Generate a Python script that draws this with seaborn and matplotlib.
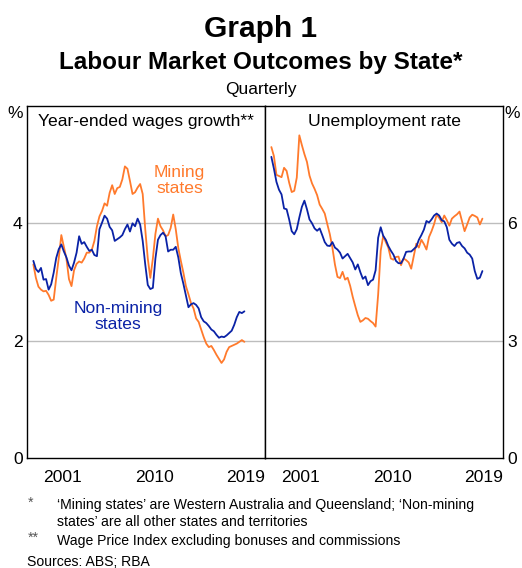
import numpy as np
import pandas as pd
import seaborn as sns
import matplotlib.pyplot as plt

# quarterly dates, plotted at the middle of each quarter
quarters = pd.period_range('1998Q3', '2019Q2', freq='Q')
dates = np.array(quarters.year + (quarters.quarter - 0.5) / 4)

wages_mining = [
    3.30, 3.07, 2.92, 2.87, 2.84, 2.85, 2.78, 2.68, 2.70, 3.07,
    3.41, 3.80, 3.60, 3.40, 3.05, 2.93, 3.20, 3.31, 3.35, 3.33,
    3.40, 3.50, 3.50, 3.55, 3.70, 3.95, 4.12, 4.21, 4.34, 4.30,
    4.52, 4.65, 4.50, 4.60, 4.62, 4.75, 4.97, 4.93, 4.72, 4.50,
    4.53, 4.61, 4.67, 4.50, 3.90, 3.40, 3.07, 3.40, 3.82, 4.08,
    3.95, 3.88, 3.78, 3.80, 3.92, 4.15, 3.90, 3.58, 3.36, 3.16,
    2.93, 2.79, 2.64, 2.55, 2.38, 2.32, 2.19, 2.06, 1.95, 1.89,
    1.91, 1.84, 1.76, 1.69, 1.62, 1.68, 1.81, 1.89, 1.91, 1.93,
    1.95, 1.98, 2.01, 1.98,
]
wages_nonmining = [
    3.36, 3.22, 3.17, 3.24, 3.04, 3.05, 2.87, 2.96, 3.16, 3.41,
    3.56, 3.64, 3.52, 3.42, 3.28, 3.20, 3.33, 3.50, 3.78, 3.65,
    3.68, 3.60, 3.53, 3.55, 3.46, 3.44, 3.90, 4.01, 4.13, 4.08,
    3.94, 3.88, 3.70, 3.73, 3.76, 3.80, 3.90, 3.98, 3.86, 4.00,
    3.95, 4.08, 3.98, 3.70, 3.30, 2.95, 2.88, 2.90, 3.40, 3.72,
    3.80, 3.84, 3.78, 3.52, 3.55, 3.55, 3.60, 3.42, 3.15, 2.97,
    2.77, 2.57, 2.62, 2.64, 2.61, 2.55, 2.40, 2.33, 2.30, 2.25,
    2.19, 2.16, 2.10, 2.05, 2.07, 2.06, 2.09, 2.13, 2.17, 2.27,
    2.40, 2.49, 2.47, 2.50,
]
unemp_mining = [
    7.95, 7.72, 7.24, 7.21, 7.18, 7.42, 7.34, 7.04, 6.80, 6.83,
    7.17, 8.25, 8.00, 7.77, 7.57, 7.22, 7.02, 6.88, 6.72, 6.48,
    6.37, 6.25, 5.98, 5.72, 5.38, 4.95, 4.63, 4.60, 4.76, 4.56,
    4.61, 4.40, 4.12, 3.88, 3.65, 3.48, 3.52, 3.58, 3.56, 3.50,
    3.45, 3.36, 4.18, 5.30, 5.68, 5.52, 5.38, 5.10, 5.07, 5.14,
    5.15, 4.93, 5.10, 5.06, 5.00, 4.84, 5.16, 5.48, 5.38, 5.58,
    5.47, 5.33, 5.65, 5.80, 5.98, 6.22, 6.14, 6.03, 6.20, 6.08,
    5.94, 6.12, 6.18, 6.23, 6.30, 6.05, 5.80, 5.97, 6.15, 6.22,
    6.19, 6.15, 5.97, 6.12,
]
unemp_nonmining = [
    7.70, 7.40, 7.06, 6.86, 6.74, 6.38, 6.36, 6.10, 5.80, 5.72,
    5.85, 6.15, 6.42, 6.58, 6.36, 6.10, 6.00, 5.87, 5.81, 5.87,
    5.70, 5.52, 5.43, 5.42, 5.52, 5.38, 5.33, 5.25, 5.10, 5.16,
    5.22, 5.11, 5.00, 4.82, 4.95, 4.75, 4.58, 4.64, 4.42, 4.52,
    4.56, 4.80, 5.63, 5.90, 5.68, 5.58, 5.42, 5.30, 5.20, 5.04,
    4.98, 4.98, 5.10, 5.27, 5.28, 5.28, 5.34, 5.40, 5.58, 5.70,
    5.84, 6.06, 6.02, 6.10, 6.20, 6.25, 6.20, 6.08, 6.05, 5.90,
    5.58, 5.48, 5.42, 5.50, 5.52, 5.42, 5.36, 5.25, 5.20, 5.10,
    4.78, 4.58, 4.61, 4.78,
]

groups = ['Mining', 'Non-mining']
year_labels = ['2001', '2010', '2019']

orange = '#FF7A2C'
blue = '#0A22A6'
palette = {'Mining': orange, 'Non-mining': blue}

n = len(dates)
df = pd.DataFrame({
    'date': np.tile(dates, 2),
    'group': [groups[0]] * n + [groups[1]] * n,
    'wages': wages_mining + wages_nonmining,
    'unemp': unemp_mining + unemp_nonmining,
})

sns.set_style('white')
plt.rcParams['font.family'] = ['Liberation Sans', 'DejaVu Sans']
plt.rcParams['text.color'] = 'black'
plt.rcParams['xtick.color'] = 'black'
plt.rcParams['ytick.color'] = 'black'

W, H = 522, 568
fig = plt.figure(figsize=(W / 100, H / 100), dpi=100)
ax1 = fig.add_axes([27 / W, 110 / H, 238 / W, 352 / H])
ax2 = fig.add_axes([265 / W, 110 / H, 238 / W, 352 / H])

sns.lineplot(data=df, x='date', y='wages', hue='group', hue_order=groups,
             palette=palette, linewidth=1.3, legend=False, ax=ax1)
sns.lineplot(data=df, x='date', y='unemp', hue='group', hue_order=groups,
             palette=palette, linewidth=1.3, legend=False, ax=ax2)

fs = 12.6
year_ticks = np.arange(1999, 2022)
label_pos = [int(y) + 0.5 for y in year_labels]

for ax, ymax, yticks in [(ax1, 6, [0, 2, 4]), (ax2, 9, [0, 3, 6])]:
    ax.set_xlim(1998.0, 2021.4)
    ax.set_ylim(0, ymax)
    ax.set_xlabel('')
    ax.set_ylabel('')
    ax.set_xticks(year_ticks)
    ax.set_xticklabels([])
    ax.set_xticks(label_pos, minor=True)
    ax.set_xticklabels(year_labels, minor=True)
    ax.tick_params(axis='x', which='major', direction='in', length=4.5,
                   width=0.9, color='black')
    ax.tick_params(axis='x', which='minor', length=0, pad=8.5, labelsize=fs)
    ax.set_yticks(yticks)
    ax.set_yticklabels([str(t) for t in yticks])
    ax.tick_params(axis='y', length=0, pad=3, labelsize=fs)
    for t in yticks[1:]:
        ax.axhline(t, color='#BDBDBD', lw=1, zorder=0)
    for s in ax.spines.values():
        s.set_visible(True)
        s.set_color('black')
        s.set_linewidth(1)

ax2.yaxis.tick_right()

ax1.text(0.5, 0.955, 'Year-ended wages growth**', transform=ax1.transAxes,
         ha='center', va='center', fontsize=fs)
ax2.text(0.5, 0.955, 'Unemployment rate', transform=ax2.transAxes,
         ha='center', va='center', fontsize=fs)

ax1.text(2013.0, 4.73, 'Mining\nstates', color=orange, ha='center',
         va='center', fontsize=fs, linespacing=1.1)
ax1.text(2006.95, 2.41, 'Non-mining\nstates', color=blue, ha='center',
         va='center', fontsize=fs, linespacing=1.1)

fig.text(15 / W, 1 - 113 / H, '%', ha='center', va='center', fontsize=fs)
fig.text(512 / W, 1 - 113 / H, '%', ha='center', va='center', fontsize=fs)

fig.text(0.5, 1 - 29 / H, 'Graph 1', ha='center', va='center',
         fontsize=21.5, fontweight='bold')
fig.text(0.5, 1 - 62.5 / H, 'Labour Market Outcomes by State*', ha='center',
         va='center', fontsize=17.5, fontweight='bold')
fig.text(0.5, 1 - 89 / H, 'Quarterly', ha='center', va='center', fontsize=12.5)

ffs = 10.1
fig.text(28 / W, 1 - 503 / H, '*', ha='left', va='center', fontsize=ffs,
         color='#555555')
fig.text(57 / W, 1 - 505 / H, '\u2018Mining states\u2019 are Western Australia and Queensland; \u2018Non-mining',
         ha='left', va='center', fontsize=ffs)
fig.text(57 / W, 1 - 522 / H, 'states\u2019 are all other states and territories',
         ha='left', va='center', fontsize=ffs)
fig.text(28 / W, 1 - 538 / H, '**', ha='left', va='center', fontsize=ffs,
         color='#555555')
fig.text(57 / W, 1 - 541 / H, 'Wage Price Index excluding bonuses and commissions',
         ha='left', va='center', fontsize=ffs)
fig.text(27 / W, 1 - 562 / H, 'Sources: ABS; RBA', ha='left', va='center',
         fontsize=ffs)

fig.savefig('out.png', dpi=100)
